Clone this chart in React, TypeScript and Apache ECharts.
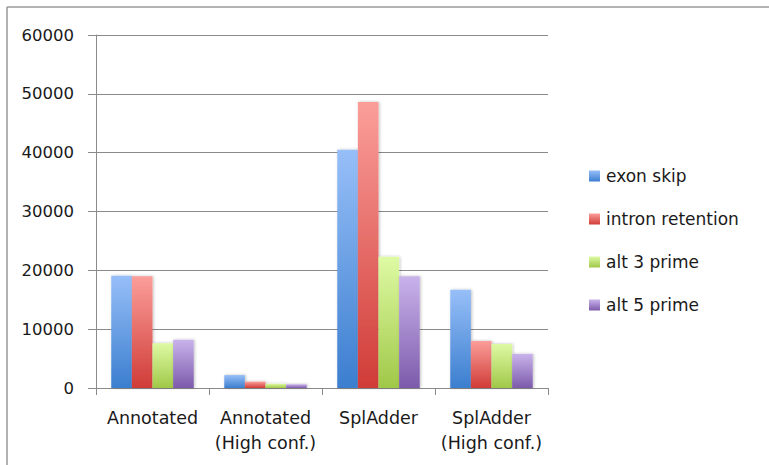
import React, { useEffect, useRef } from "react";
import * as echarts from "echarts";

const categories = ["Annotated", "Annotated\n(High conf.)", "SplAdder", "SplAdder\n(High conf.)"];
const seriesNames = ["exon skip", "intron retention", "alt 3 prime", "alt 5 prime"];
const exonSkip = [19100, 2200, 40500, 16700];
const intronRetention = [19000, 1080, 48600, 8000];
const alt3Prime = [7600, 720, 22300, 7500];
const alt5Prime = [8200, 630, 19000, 5800];
const seriesValues = [exonSkip, intronRetention, alt3Prime, alt5Prime];
const gradients: [string, string][] = [
  ["#97BFF8", "#3B7ECF"],
  ["#FB9E9A", "#D03C37"],
  ["#DEFAA4", "#A0C848"],
  ["#C9B3EB", "#7C5AAB"],
];

const FONT = "DejaVu Sans";

export default function App() {
  const ref = useRef<HTMLDivElement>(null);
  useEffect(() => {
    if (!ref.current) return;
    const chart = echarts.init(ref.current, undefined, { renderer: "svg" });
    chart.setOption({
      animation: false,
      backgroundColor: "#ffffff",
      graphic: [
        { type: "line", shape: { x1: 7, y1: 7, x2: 769, y2: 7 }, style: { stroke: "#999999", lineWidth: 1.5 } },
        { type: "line", shape: { x1: 7, y1: 7, x2: 7, y2: 465 }, style: { stroke: "#999999", lineWidth: 1.5 } },
      ],
      grid: { left: 96, right: 221, top: 35, bottom: 77 },
      legend: {
        orient: "vertical",
        left: 584,
        top: 161,
        itemWidth: 11,
        itemHeight: 11,
        itemGap: 23,
        icon: "rect",
        textStyle: { fontFamily: FONT, fontSize: 17, color: "#1a1a1a", lineHeight: 20, padding: [0, 0, 0, 1] },
        data: seriesNames,
      },
      xAxis: {
        type: "category",
        data: categories,
        axisLine: { lineStyle: { color: "#8a8a8a", width: 1 } },
        axisTick: { show: true, length: 7, lineStyle: { color: "#8a8a8a" } },
        axisLabel: { fontFamily: FONT, fontSize: 17.5, color: "#1a1a1a", margin: 17, lineHeight: 25, interval: 0 },
      },
      yAxis: {
        type: "value",
        min: 0,
        max: 60000,
        interval: 10000,
        axisLine: { show: true, lineStyle: { color: "#8a8a8a", width: 1 } },
        axisTick: { show: true, length: 8, lineStyle: { color: "#8a8a8a" } },
        splitLine: { lineStyle: { color: "#8a8a8a", width: 1 } },
        axisLabel: {
          fontFamily: FONT,
          fontSize: 16.5,
          color: "#1a1a1a",
          margin: 22,
          formatter: (v: number) => String(v),
        },
      },
      series: seriesNames.map((name, i) => ({
        name,
        type: "bar",
        data: seriesValues[i],
        barGap: "0%",
        barCategoryGap: "27%",
        itemStyle: {
          color: new echarts.graphic.LinearGradient(0, 0, 0, 1, [
            { offset: 0, color: gradients[i][0] },
            { offset: 1, color: gradients[i][1] },
          ]),
          shadowColor: "rgba(0,0,0,0.25)",
          shadowBlur: 3,
          shadowOffsetX: 1,
          shadowOffsetY: 0,
        },
      })),
    });
    return () => chart.dispose();
  }, []);
  return <div ref={ref} style={{ width: 769, height: 465, position: "absolute", left: 0, top: 0 }} />;
}
